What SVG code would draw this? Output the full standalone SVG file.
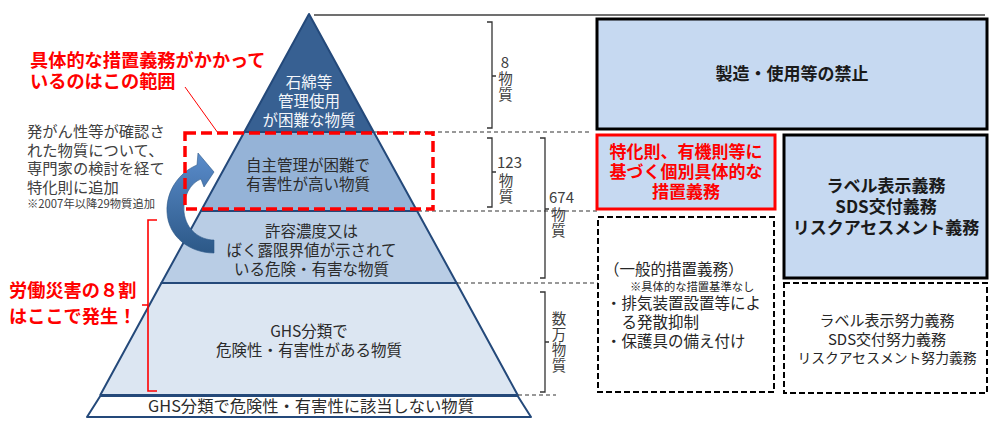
<svg xmlns="http://www.w3.org/2000/svg" width="1000" height="430" viewBox="0 0 1000 430">
<style>
text{font-family:"Noto Sans CJK JP","Noto Sans",sans-serif;}
.tier{stroke:#24497a;stroke-width:2;stroke-linejoin:round;}
.pt{font-size:15.5px;fill:#2b2b2b;text-anchor:middle;}
.wt{font-size:15.5px;fill:#f4f6fa;text-anchor:middle;}
.lbl{font-size:15px;fill:#404040;}
.vl{font-size:14.5px;fill:#404040;writing-mode:vertical-rl;letter-spacing:1.3px;}
.brace{fill:none;stroke:#333;stroke-width:1.3;}
.dash{fill:none;stroke:#333;stroke-width:1.2;stroke-dasharray:4 3;}
.box{fill:#c6d9f1;stroke:#000;stroke-width:3;}
.dbox{fill:#fff;stroke:#000;stroke-width:2;stroke-dasharray:6 3;}
.bt{font-size:17px;font-weight:bold;fill:#1a1a1a;text-anchor:middle;}
.rt{font-size:17px;font-weight:bold;fill:#ff0000;text-anchor:middle;}
.red{font-size:18.2px;font-weight:bold;fill:#ff0000;}
.gt{font-size:15.3px;fill:#404040;}
.gen{font-size:15.5px;fill:#262626;}
.eff{font-size:15px;fill:#262626;text-anchor:middle;}
</style>
<defs>
<linearGradient id="arrowGrad" x1="0" y1="0" x2="0" y2="1">
<stop offset="0" stop-color="#5a8ccb"/>
<stop offset="1" stop-color="#2c5887"/>
</linearGradient>
</defs>

<g id="pyramid">
<g id="tier1">
<polygon class="tier" points="309,14 373.7,132 244.3,132" fill="#376092"/>
<text class="wt"><tspan x="309" y="88">石綿等</tspan><tspan x="309" y="107">管理使用</tspan><tspan x="309" y="126">が困難な物質</tspan></text>
</g>
<g id="tier2">
<polygon class="tier" points="244.3,132 373.7,132 417.1,211 200.9,211" fill="#95b3d7"/>
<text class="pt"><tspan x="308" y="171">自主管理が困難で</tspan><tspan x="308" y="189.5">有害性が高い物質</tspan></text>
</g>
<g id="tier3">
<polygon class="tier" points="200.9,211 417.1,211 456.6,283 161.4,283" fill="#b9cde5"/>
<text class="pt"><tspan x="311.5" y="237">許容濃度又は</tspan><tspan x="311.5" y="256">ばく露限界値が示されて</tspan><tspan x="311.5" y="275">いる危険・有害な物質</tspan></text>
</g>
<g id="tier4">
<polygon class="tier" points="161.4,283 456.6,283 517.7,395 100.3,395" fill="#dce6f2"/>
<text class="pt"><tspan x="309" y="337">GHS分類で</tspan><tspan x="309" y="356">危険性・有害性がある物質</tspan></text>
</g>
<g id="base">
<polygon class="tier" points="100.3,396 517.7,396 531,417 87,417" fill="#ffffff"/>
<text class="pt" x="311" y="411.5" style="font-size:16.3px">GHS分類で危険性・有害性に該当しない物質</text>
</g>
</g>

<g id="connectors">
<line x1="314" y1="15" x2="985" y2="15" stroke="#404040" stroke-width="1.5"/>
<line class="dash" x1="375" y1="132" x2="592" y2="132"/>
<line class="dash" x1="418" y1="211" x2="597" y2="211"/>
<line class="dash" x1="457" y1="283" x2="598" y2="283"/>
<line class="dash" x1="518" y1="395" x2="556" y2="395"/>
<path class="brace" d="M487,22 H492 V128 H487 M492,76 H496"/>
<path class="brace" d="M487,138 H492 V207 H487 M492,172 H496"/>
<path class="brace" d="M540,138 H545 V278 H540 M545,209 H549"/>
<path class="brace" d="M540,292 H545 V392 H540 M545,342 H549"/>
<path d="M157,220 H148 V391 H157 M148,305 H142" fill="none" stroke="#ff0000" stroke-width="1.6"/>
<line x1="185" y1="87" x2="218" y2="133" stroke="#ff0000" stroke-width="1"/>
<path id="curvedArrow" d="M214,253 C190,253 168,237 167,212 C166,190 180,172 197,165 L198,153 L214,172 L204,187 L201,179 C190,183 183,197 184,212 C186,230 200,240 214,240 Z" fill="url(#arrowGrad)" stroke="#2c5887" stroke-width="0.6"/>
</g>

<g id="scope-box">
<rect x="185" y="133" width="248" height="76" fill="none" stroke="#ff0000" stroke-width="3.5" stroke-dasharray="11 5"/>
</g>

<g id="labels-left">
<text class="red"><tspan x="30" y="67">具体的な措置義務がかかって</tspan><tspan x="30" y="88">いるのはこの範囲</tspan></text>
<text class="gt"><tspan x="27" y="137">発がん性等が確認さ</tspan><tspan x="27" y="155.5">れた物質について、</tspan><tspan x="27" y="174">専門家の検討を経て</tspan><tspan x="27" y="192.5">特化則に追加</tspan><tspan x="27" y="207.5" style="font-size:11.3px">※2007年以降29物質追加</tspan></text>
<text class="red"><tspan x="9" y="297">労働災害の８割</tspan><tspan x="9" y="323">はここで発生！</tspan></text>
</g>

<g id="counts">
<text class="lbl" x="505" y="68" text-anchor="middle">8</text>
<text class="vl" x="505.5" y="71">物質</text>
<text class="lbl" x="497" y="168">123</text>
<text class="vl" x="506" y="173">物質</text>
<text class="lbl" x="549" y="203">674</text>
<text class="vl" x="558.5" y="207">物質</text>
<text class="vl" x="559" y="311">数万物質</text>
</g>

<g id="box-ban">
<rect class="box" x="597" y="19" width="390" height="110"/>
<text class="bt" x="792" y="80">製造・使用等の禁止</text>
</g>
<g id="box-specific">
<rect x="597" y="135" width="178" height="74" fill="#c6d9f1" stroke="#ff0000" stroke-width="3"/>
<text class="rt"><tspan x="686" y="158">特化則、有機則等に</tspan><tspan x="686" y="178">基づく個別具体的な</tspan><tspan x="686" y="198">措置義務</tspan></text>
</g>
<g id="box-label-duty">
<rect class="box" x="784" y="135" width="203" height="143"/>
<text class="bt"><tspan x="886" y="192">ラベル表示義務</tspan><tspan x="886" y="213">SDS交付義務</tspan><tspan x="886" y="234">リスクアセスメント義務</tspan></text>
</g>
<g id="box-general">
<rect class="dbox" x="598" y="217" width="176" height="175"/>
<text class="gen"><tspan x="604" y="274.5">（一般的措置義務）</tspan><tspan x="630" y="290.5" style="font-size:11.3px">※具体的な措置基準なし</tspan><tspan x="606" y="309">・排気装置設置等によ</tspan><tspan x="621.5" y="328">る発散抑制</tspan><tspan x="606" y="347">・保護具の備え付け</tspan></text>
</g>
<g id="box-label-effort">
<rect class="dbox" x="784" y="283" width="203" height="110"/>
<text class="eff"><tspan x="887" y="326">ラベル表示努力義務</tspan><tspan x="887" y="345">SDS交付努力義務</tspan><tspan x="887" y="363" style="font-size:13.8px">リスクアセスメント努力義務</tspan></text>
</g>
</svg>
